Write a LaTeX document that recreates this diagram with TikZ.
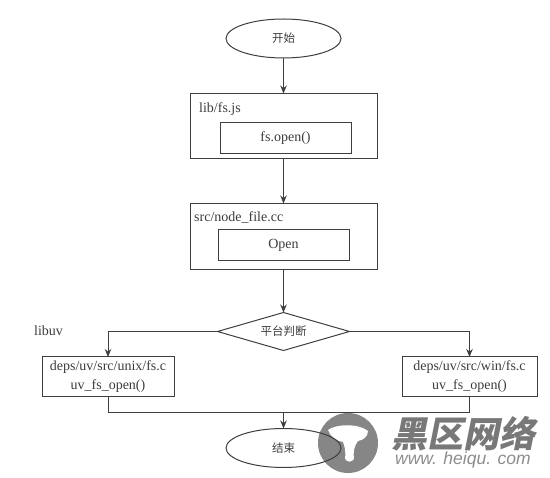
\documentclass[tikz,border=0pt]{standalone}
\usepackage{fontspec}
\setmainfont{Liberation Serif}
\newfontfamily\cjkfont{Noto Sans CJK SC}
\newfontfamily\markfont[FakeSlant=0.2]{Noto Sans CJK SC}
\newfontfamily\urlfont{Liberation Sans}
\usetikzlibrary{positioning,arrows.meta,shapes.geometric}
\definecolor{linecol}{RGB}{62,62,62}
\definecolor{textcol}{RGB}{60,60,60}
\definecolor{markcol}{RGB}{120,120,120}

\begin{document}
\begin{tikzpicture}[
  x=1pt, y=1pt,
  ellip/.style={ellipse, draw=linecol, line width=1pt, text=textcol, font=\cjkfont\fontsize{11.5}{13}\selectfont,
                minimum width=115pt, minimum height=39pt, inner sep=0pt, outer sep=0pt},
  outerbox/.style={rectangle, draw=linecol, line width=1pt, minimum width=187pt, minimum height=#1, inner sep=0pt, outer sep=0pt},
  innerbox/.style={rectangle, draw=linecol, line width=1pt, text=textcol, font=\fontsize{14}{16}\selectfont,
                   minimum width=131pt, minimum height=31pt, inner sep=0pt, outer sep=0pt},
  platbox/.style={rectangle, draw=linecol, line width=1pt, text=textcol, font=\fontsize{14}{19}\selectfont, align=center,
                  minimum height=40pt, inner sep=0pt, outer sep=0pt},
  judge/.style={diamond, draw=linecol, line width=1pt, text=textcol, font=\cjkfont\fontsize{11.5}{13}\selectfont,
                minimum width=132pt, minimum height=38pt, aspect=3.47, inner sep=0pt, outer sep=0pt},
  ea/.style={-{Stealth[length=8pt,width=6.5pt]}, line width=1pt, draw=linecol},
  el/.style={line width=1pt, draw=linecol},
  anno/.style={anchor=west, text=textcol, font=\fontsize{14}{16}\selectfont, inner sep=0pt}
]
\useasboundingbox (0,0) rectangle (550,-478);

% watermark goes under the flow
\fill[markcol!90] (348,-443) circle (30);
\fill[white] (328,-430) .. controls (336,-424) and (358,-423) .. (368,-431)
  .. controls (368,-436) and (364,-440) .. (358,-441)
  .. controls (354,-446) and (353,-453) .. (354,-459)
  .. controls (351,-463) and (347,-462) .. (345,-459)
  .. controls (346,-453) and (345,-447) .. (343,-442)
  .. controls (336,-441) and (330,-436) .. (328,-430);
\node[anchor=west, inner sep=0pt, text=markcol] (mark) at (391,-434) {\markfont\bfseries\fontsize{36}{38}\selectfont 黑区网络};
\node[inner sep=0pt, text=markcol!85, anchor=north west] (url) at (395,-452)
  {\urlfont\itshape\fontsize{17.5}{20}\selectfont www. heiqu. com};

\node[ellip] (start) at (283.5,-38.5) {开始};

\node[outerbox=65pt, below=35.5pt of start] (lib) {};
\node[innerbox, anchor=south, xshift=2pt, yshift=5pt] (open) at (lib.south) {fs.open()};
\node[anno] (libname) at (199,-109) {lib/fs.js};

\node[outerbox=66pt, below=45pt of lib] (src) {};
\node[innerbox, anchor=south, yshift=9pt] (nopen) at (src.south) {Open};
\node[anno] (srcname) at (194,-217) {src/node\_file.cc};

\node[judge, below=43pt of src] (plat) {平台判断};

\node[anno] (uvname) at (34,-331) {libuv};
\node[platbox, minimum width=132pt] (unix) at (108,-377) {deps/uv/src/unix/fs.c\\uv\_fs\_open()};
\node[platbox, minimum width=135pt] (win) at (469.5,-377) {deps/uv/src/win/fs.c\\uv\_fs\_open()};

\node[ellip] (end) at (283.5,-448) {结束};
\coordinate (merge) at (283.5,-413);

\draw[ea] (start)--(lib);
\draw[ea] (lib)--(src);
\draw[ea] (src)--(plat);
\draw[ea] (plat.west) -| (unix.north);
\draw[ea] (plat.east) -| (win.north);
\draw[el] (unix.south) |- (merge);
\draw[el] (win.south) |- (merge);
\draw[ea] (merge)--(end);

\end{tikzpicture}
\end{document}
